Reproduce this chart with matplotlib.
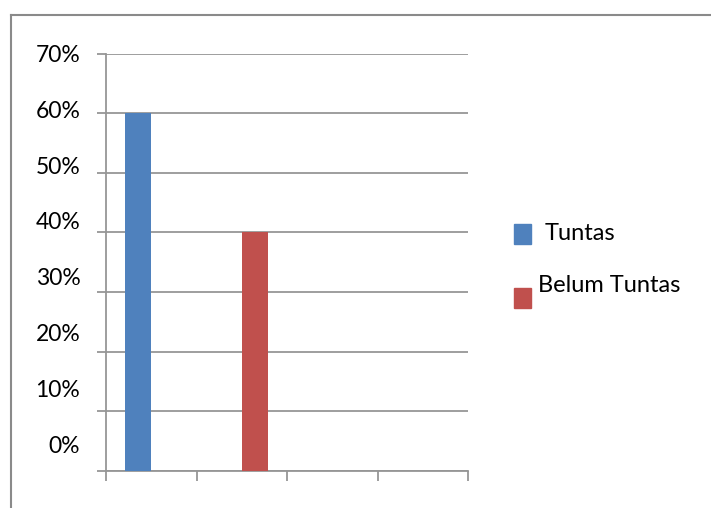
import matplotlib.pyplot as plt
import numpy as np
from matplotlib.lines import Line2D
from matplotlib.patches import Rectangle

plt.rcParams['font.family'] = ['Lato', 'DejaVu Sans']

categories = ['', '', '', '']
tuntas = [0.60, 0, 0, 0]
belum_tuntas = [0, 0.40, 0, 0]
y_ticks = [0, 0.1, 0.2, 0.3, 0.4, 0.5, 0.6, 0.7]
y_labels = ['0%', '10%', '20%', '30%', '40%', '50%', '60%', '70%']

blue = '#4F81BD'
red = '#C0504D'
grid_col = '#969696'

fig = plt.figure(figsize=(7.11, 5.08), dpi=100)
ax = fig.add_axes([106 / 711, 1 - 471 / 508, 362 / 711, (471 - 53.5) / 508])

x = np.arange(len(categories)) + 0.5
w = 0.29
ax.bar(x - w / 2, tuntas, w, color=blue, zorder=3)
ax.bar(x + w / 2, belum_tuntas, w, color=red, zorder=3)

ax.set_xlim(0, len(categories))
ax.set_ylim(0, 0.7)
ax.set_xticks(np.arange(len(categories) + 1))
ax.set_xticklabels([])
ax.set_yticks(y_ticks)
ax.set_yticklabels([])
ax.grid(axis='y', color=grid_col, linewidth=1.3, zorder=0)
ax.tick_params(axis='x', length=7.5, width=1.3, color=grid_col, direction='out')
ax.tick_params(axis='y', length=6.5, width=1.3, color=grid_col, direction='out')
for side in ['top', 'right']:
    ax.spines[side].set_visible(False)
ax.spines['left'].set_color(grid_col)
ax.spines['left'].set_linewidth(1.3)
ax.spines['bottom'].set_color(grid_col)
ax.spines['bottom'].set_linewidth(1.3)

# value labels sit a little above their gridlines, so they get their own scale
lab = ax.twinx()
lab.set_ylim(-0.0483, 0.699)
lab.set_yticks(y_ticks)
lab.set_yticklabels(y_labels, fontsize=16.5)
lab.yaxis.tick_left()
lab.tick_params(axis='y', length=0, pad=18.5)
for s in lab.spines.values():
    s.set_visible(False)

# legend
fig.add_artist(Rectangle((514 / 711, 1 - 244 / 508), 17 / 711, 20 / 508,
                         transform=fig.transFigure, color=blue))
fig.add_artist(Rectangle((514 / 711, 1 - 308 / 508), 17 / 711, 20 / 508,
                         transform=fig.transFigure, color=red))
fig.text(545 / 711, 1 - 233 / 508, 'Tuntas', fontsize=17, va='center')
fig.text(538 / 711, 1 - 286 / 508, 'Belum Tuntas', fontsize=17, va='center')

# outer frame
fig.add_artist(Line2D([11 / 711, 1], [1 - 15 / 508] * 2, transform=fig.transFigure,
                      color='#8a8a8a', linewidth=1.5))
fig.add_artist(Line2D([11 / 711] * 2, [0, 1 - 15 / 508], transform=fig.transFigure,
                      color='#8a8a8a', linewidth=1.5))

fig.savefig('out.png', dpi=100)
